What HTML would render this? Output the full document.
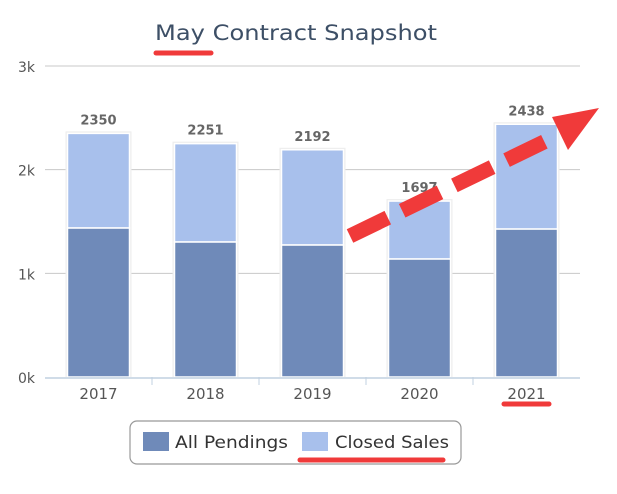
<!DOCTYPE html>
<html><head><meta charset="utf-8"><style>
html,body{margin:0;padding:0;background:#fff;width:617px;height:494px;overflow:hidden}
svg{display:block;font-family:"DejaVu Sans","Liberation Sans",sans-serif}
</style></head><body>
<svg id="chart" width="617" height="494">
<text x="155" y="40" font-size="21" fill="#3d4f66" textLength="282" lengthAdjust="spacingAndGlyphs">May Contract Snapshot</text>
<g id="grid"></g><g id="bars"></g><g id="xaxis"></g>
<g>
<rect x="130" y="421" width="331" height="43" rx="7" fill="#fff" stroke="#999" stroke-width="1.2"/>
<g><rect x="143" y="432" width="26" height="19" fill="#6f8ab9"/><text x="175" y="448" font-size="17" fill="#333" textLength="113" lengthAdjust="spacingAndGlyphs">All Pendings</text></g>
<g><rect x="302" y="432" width="26" height="19" fill="#a8c0ec"/><text x="335" y="448" font-size="17" fill="#333" textLength="114" lengthAdjust="spacingAndGlyphs">Closed Sales</text></g>
</g>
<g>
<line x1="156" y1="53" x2="211" y2="53" stroke="#f03a3a" stroke-width="5" stroke-linecap="round"/>
<line x1="504" y1="404" x2="549" y2="404" stroke="#f03a3a" stroke-width="5" stroke-linecap="round"/>
<line x1="300" y1="460" x2="443" y2="460" stroke="#f03a3a" stroke-width="5" stroke-linecap="round"/>
<line x1="350" y1="236" x2="548" y2="140" stroke="#f03a3a" stroke-width="15" stroke-dasharray="42,16"/>
<polygon points="552,117 599,108 568,150" fill="#f03a3a"/>
</g>
</svg>
<script>
const categories=["2017","2018","2019","2020","2021"];
const pendings=[1437,1302,1273,1138,1427];
const totals=[2350,2251,2192,1697,2438];
const yTicks=[0,1000,2000,3000];
const yTickLabels=["0k","1k","2k","3k"];
const NS="http://www.w3.org/2000/svg";
const x0=45,x1=580,yb=377,yt=66,ymax=3000;
const bw=(x1-x0)/categories.length;
const y=v=>yb-(v/ymax)*(yb-yt);
function mk(tag,attrs,parent,txt){const e=document.createElementNS(NS,tag);for(const k in attrs)e.setAttribute(k,attrs[k]);if(txt!==undefined)e.textContent=txt;parent.appendChild(e);return e;}
const grid=document.getElementById('grid'),bars=document.getElementById('bars'),xa=document.getElementById('xaxis');
yTicks.forEach((t,i)=>{
 if(t>0){const l=mk('line',{x1:x0,x2:x1,y1:y(t),y2:y(t),stroke:'#c8c8c8','stroke-width':1},grid);
 
 }
 const tx=mk('text',{x:35,y:y(t)+6,'text-anchor':'end','font-size':14,fill:'#555'},grid,yTickLabels[i]);
 
 
});
const ax=mk('line',{x1:x0,x2:x1,y1:yb+1,y2:yb+1,stroke:'#c0d0e0','stroke-width':1.5},xa);


categories.forEach((c,i)=>{
 const cx=x0+bw*(i+0.5),w=62,bx=cx-w/2;
 if(i>0){const tk=mk('line',{x1:x0+bw*i,x2:x0+bw*i,y1:yb,y2:yb+8,stroke:'#c0d0e0'},xa);
 
 }
 const lb=mk('text',{x:cx,y:399,'text-anchor':'middle','font-size':15,fill:'#555'},xa,c);
 
 
 const sh=mk('rect',{x:bx-2,y:y(totals[i])-2,width:w+4,height:yb-y(totals[i])+2,fill:'#eeeeee'},bars);
 
 
 const b2=mk('rect',{x:bx,y:y(totals[i]),width:w,height:y(pendings[i])-y(totals[i]),fill:'#a8c0ec',stroke:'#fff','stroke-width':1.5},bars);
 
 
 const b1=mk('rect',{x:bx,y:y(pendings[i]),width:w,height:yb-y(pendings[i]),fill:'#6f8ab9',stroke:'#fff','stroke-width':1.5},bars);
 
 
 const vl=mk('text',{x:cx,y:y(totals[i])-9,'text-anchor':'middle','font-size':13,'font-weight':'bold',fill:'#666'},bars,String(totals[i]));
 
 
});
</script>
</body></html>
